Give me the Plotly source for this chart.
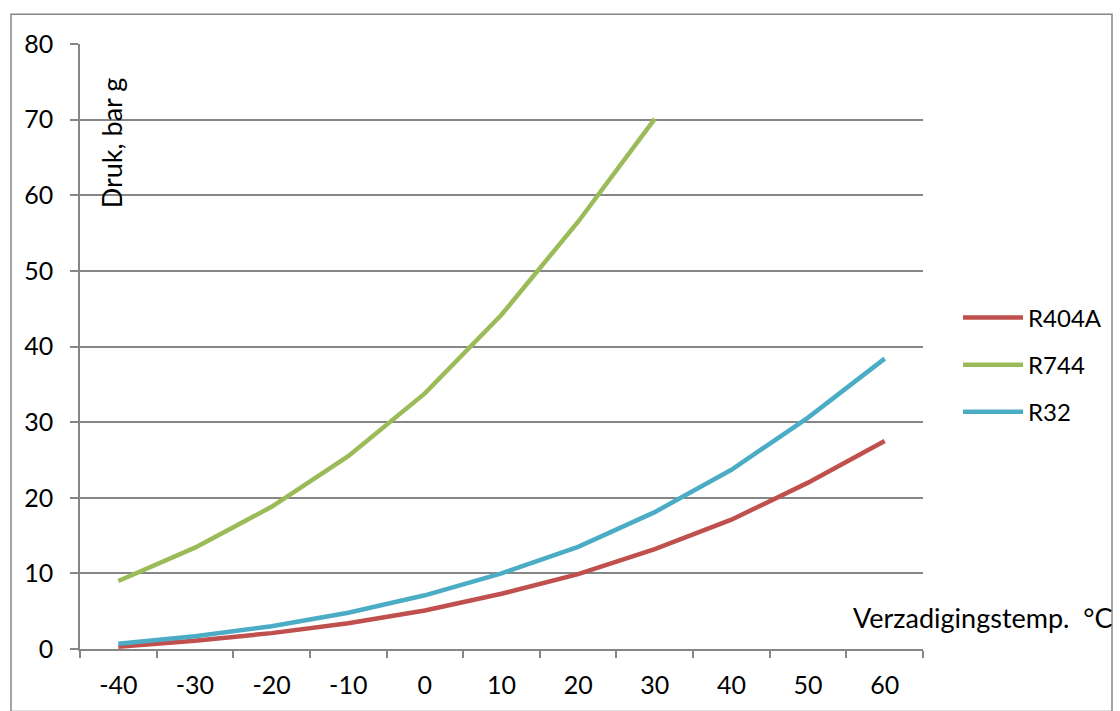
import plotly.graph_objects as go

categories = ["-40", "-30", "-20", "-10", "0", "10", "20", "30", "40", "50", "60"]
r404a = [0.3, 1.1, 2.1, 3.4, 5.1, 7.3, 9.9, 13.2, 17.1, 22.0, 27.5]
r744 = [9.0, 13.4, 18.8, 25.5, 33.8, 44.2, 56.5, 70.1]
r32 = [0.7, 1.7, 3.0, 4.8, 7.1, 10.0, 13.5, 18.1, 23.7, 30.6, 38.4]

series = [("R404A", r404a, "#C0504D"), ("R744", r744, "#9BBB59"), ("R32", r32, "#4BACC6")]

FONT = "Lato"
GRAY = "#868686"
FS = 25

fig = go.Figure()
for i, (name, vals, col) in enumerate(series):
    fig.add_trace(go.Scatter(
        x=categories[:len(vals)], y=vals, name=name, mode="lines",
        line=dict(color=col, width=4.5), legendgroup=name,
    ))

L, R, T, B = 80, 197, 44, 58
W, H = 1120, 711
pw, ph = W - L - R, H - T - B

def px_x(x):
    return (x - L) / pw

def px_y(y):
    return (H - B - y) / ph

fig.update_layout(
    width=W, height=H,
    margin=dict(l=L, r=R, t=T, b=B),
    paper_bgcolor="white", plot_bgcolor="white",
    font=dict(family=FONT, size=FS, color="black"),
    showlegend=True,
    legend=dict(
        x=px_x(958), y=px_y(297), xanchor="left", yanchor="top",
        font=dict(family=FONT, size=24, color="black"),
        tracegroupgap=13, itemwidth=60, bgcolor="rgba(0,0,0,0)",
    ),
    xaxis=dict(
        type="category", categoryorder="array", categoryarray=categories,
        range=[-0.5, 10.5], tickson="boundaries", ticks="outside", ticklen=7,
        tickcolor=GRAY, tickwidth=1.5, showline=True, linecolor=GRAY, linewidth=1.5,
        showgrid=False, ticklabelstandoff=13,
        tickfont=dict(family=FONT, size=FS),
    ),
    yaxis=dict(
        range=[0, 80], dtick=10, ticks="outside", ticklen=8, tickcolor=GRAY, tickwidth=1.5,
        showline=True, linecolor=GRAY, linewidth=1.5, showgrid=True, gridcolor=GRAY,
        gridwidth=1.5, zeroline=False, ticklabelstandoff=12,
        tickfont=dict(family=FONT, size=FS),
    ),
    shapes=[dict(
        type="rect", xref="paper", yref="paper",
        x0=px_x(11), x1=px_x(1112), y0=px_y(716), y1=px_y(14),
        line=dict(color=GRAY, width=1.5), fillcolor="rgba(0,0,0,0)", layer="below",
    )],
    annotations=[
        dict(text="Druk, bar g", xref="paper", yref="paper", x=px_x(111), y=px_y(144),
             textangle=-90, showarrow=False, xanchor="center", yanchor="middle",
             font=dict(family=FONT, size=27)),
        dict(text="Verzadigingstemp.  °C", xref="paper", yref="paper", x=px_x(1115), y=px_y(621),
             showarrow=False, xanchor="right", yanchor="middle",
             font=dict(family=FONT, size=27)),
    ],
)

fig.write_html("out.html", config={"displayModeBar": False},
               post_script="document.body.style.margin='0';document.body.style.overflow='hidden';")
